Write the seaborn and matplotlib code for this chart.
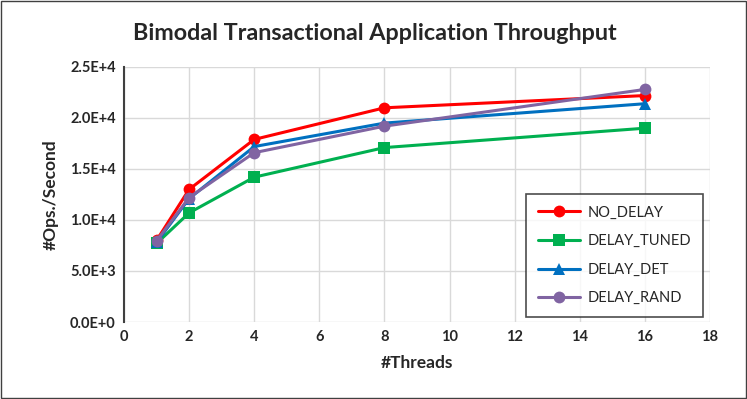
import pandas as pd
import numpy as np
import matplotlib.pyplot as plt
import seaborn as sns
from matplotlib.patches import Rectangle

threads = [1, 2, 4, 8, 16]
no_delay = [8000, 13000, 17900, 21000, 22200]
delay_tuned = [7700, 10700, 14200, 17100, 19000]
delay_det = [7800, 12100, 17200, 19500, 21400]
delay_rand = [7950, 12200, 16600, 19200, 22800]

series = ["NO_DELAY", "DELAY_TUNED", "DELAY_DET", "DELAY_RAND"]
colors = ["#FF0000", "#00B050", "#0070C0", "#8064A2"]
markers = ["o", "s", "^", "o"]

x_ticks = list(range(0, 20, 2))
y_ticks = [0, 5000, 10000, 15000, 20000, 25000]
y_labels = ["0.0E+0", "5.0E+3", "1.0E+4", "1.5E+4", "2.0E+4", "2.5E+4"]

df = pd.DataFrame({
    "Threads": threads * 4,
    "Ops": no_delay + delay_tuned + delay_det + delay_rand,
    "Series": [s for s in series for _ in threads],
})

sns.set_theme(style="white")
plt.rcParams['font.family'] = ['Lato', 'DejaVu Sans']

fig = plt.figure(figsize=(7.47, 3.99), dpi=100)
ax = fig.add_axes([124 / 747, 1 - 322 / 399, (710 - 124) / 747, (322 - 67) / 399])

sns.lineplot(data=df, x="Threads", y="Ops", hue="Series", style="Series",
             palette=colors, markers=markers, dashes=False, linewidth=2.2,
             markersize=8.5, markeredgewidth=0, ax=ax)

ax.set_xlim(0, 18)
ax.set_ylim(0, 25000)
ax.set_xticks(x_ticks)
ax.set_yticks(y_ticks)
ax.set_yticklabels(y_labels)
ax.tick_params(axis="both", labelsize=10.5, length=0, pad=6)
for lbl in ax.get_xticklabels() + ax.get_yticklabels():
    lbl.set_fontweight("bold")
ax.grid(True, color="#D9D9D9", linewidth=1)
for side in ["top", "right", "bottom"]:
    ax.spines[side].set_visible(False)
ax.spines["left"].set_color("#404040")
ax.spines["left"].set_linewidth(1.5)

ax.set_xlabel("#Threads", fontsize=12.5, fontweight="bold", labelpad=8)
ax.set_ylabel("#Ops./Second", fontsize=12.5, fontweight="bold", labelpad=8)
fig.text(375 / 747, 1 - 33 / 399, "Bimodal Transactional Application Throughput",
         ha="center", va="center", fontsize=16.8, fontweight="bold")

leg = ax.legend(loc="lower right", bbox_to_anchor=(0.988, 0.02), borderaxespad=0,
                frameon=True, fancybox=False, fontsize=10.5, handlelength=2.9,
                handletextpad=0.5, labelspacing=1.0, borderpad=0.8, title=None)
leg.get_frame().set_edgecolor("#202020")
leg.get_frame().set_linewidth(1.2)

fig.patches.append(Rectangle((0.002, 0.003), 0.996, 0.994, transform=fig.transFigure,
                             fill=False, edgecolor="#404040", linewidth=1))

fig.savefig("out.png", dpi=100)
